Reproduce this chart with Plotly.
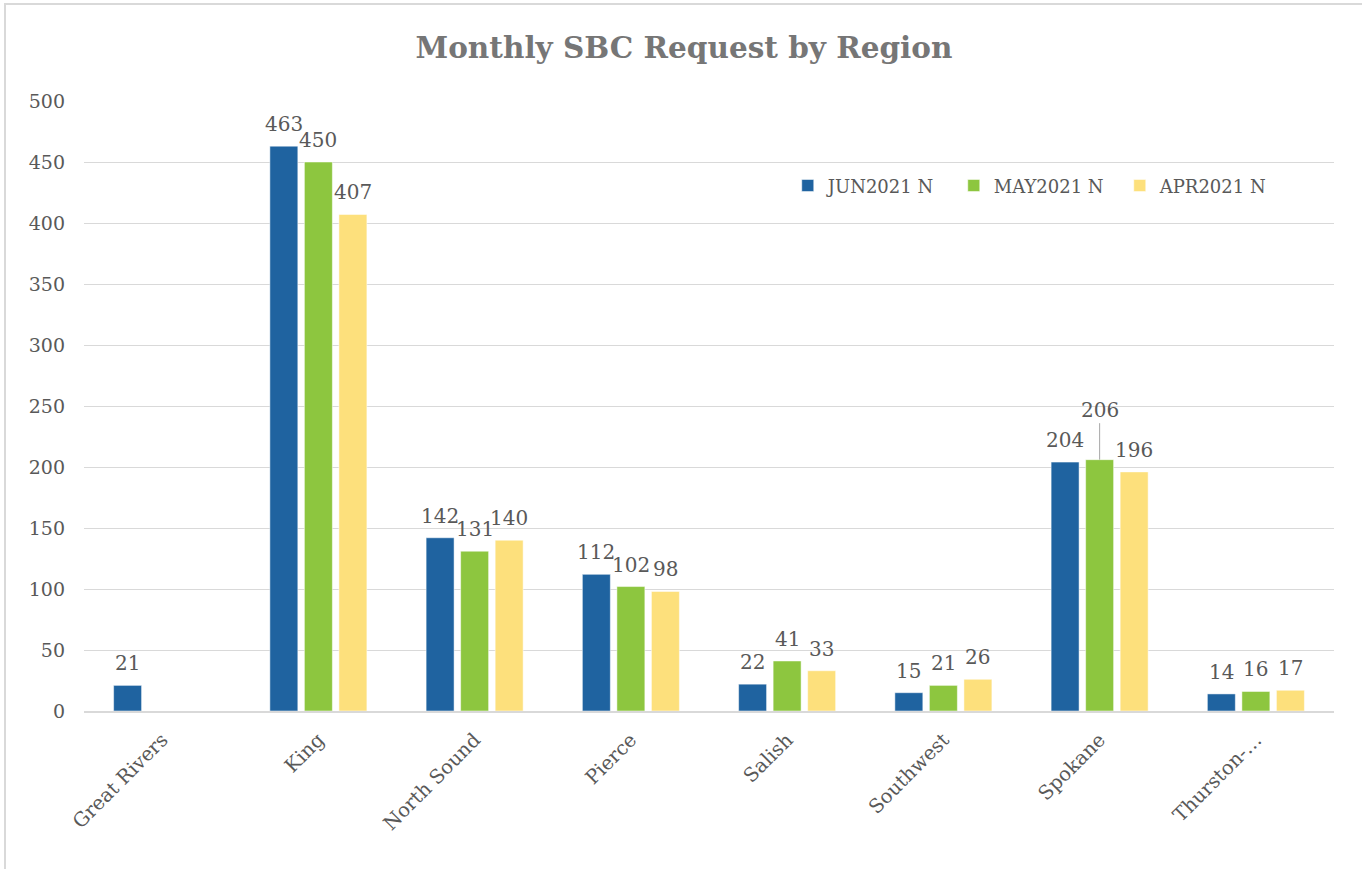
import plotly.graph_objects as go

regions = ["Great Rivers", "King", "North Sound", "Pierce", "Salish", "Southwest", "Spokane", "Thurston-…"]
series_names = ["JUN2021 N", "MAY2021 N", "APR2021 N"]
jun = [21, 463, 142, 112, 22, 15, 204, 14]
may = [None, 450, 131, 102, 41, 21, 206, 16]
apr = [None, 407, 140, 98, 33, 26, 196, 17]
colors = ["#1F63A0", "#8DC63F", "#FDE07C"]

FONT = "DejaVu Serif"
TXT = "#595959"

fig = go.Figure()
all_vals = [jun, may, apr]
for name, vals, col in zip(series_names, all_vals, colors):
    fig.add_trace(go.Bar(
        x=regions, y=vals, name=name,
        marker=dict(color=col, line=dict(color="white", width=0.5)),
        cliponaxis=False,
    ))

# data labels
offsets = [-34.5, 0, 34.5]
for si, vals in enumerate(all_vals):
    for r, v in zip(regions, vals):
        if v is None:
            continue
        leader = (r == "Spokane" and si == 1)
        if leader:
            fig.add_annotation(x=r, y=v, text=str(v), xshift=offsets[si],
                               showarrow=True, ax=0, ay=-50, arrowhead=0,
                               arrowwidth=1, arrowcolor="#A6A6A6", standoff=0,
                               font=dict(family=FONT, size=20, color=TXT))
        else:
            fig.add_annotation(x=r, y=v, text=str(v), xshift=offsets[si],
                               yshift=22, showarrow=False,
                               font=dict(family=FONT, size=20, color=TXT))

# chart border
fig.add_shape(type="rect", xref="paper", yref="paper",
              x0=-79 / 1250, x1=1.05, y0=-0.3, y1=(711 - 4) / 610,
              line=dict(color="#D9D9D9", width=2), fillcolor="rgba(0,0,0,0)")

fig.update_layout(
    width=1362, height=869,
    paper_bgcolor="white", plot_bgcolor="white",
    margin=dict(l=84, r=28, t=101, b=158),
    barmode="group", bargap=0.337, bargroupgap=0.19,
    title=dict(text="<b>Monthly SBC Request by Region</b>", x=684 / 1362, xanchor="center",
               xref="container",
               y=1 - 48 / 869, yanchor="middle",
               font=dict(family=FONT, size=29.5, color="#767676")),
    font=dict(family=FONT, size=19, color=TXT),
    legend=dict(orientation="h", x=0.563, y=0.861, xanchor="left", yanchor="middle",
                font=dict(family=FONT, size=18, color=TXT),
                entrywidth=121, entrywidthmode="pixels",
                bgcolor="rgba(0,0,0,0)"),
    showlegend=True,
)
fig.update_yaxes(range=[0, 500], dtick=50, showgrid=True, gridcolor="#D9D9D9",
                 gridwidth=1, zeroline=False, showline=False,
                 tickfont=dict(family=FONT, size=19, color=TXT),
                 ticklabelstandoff=18)
fig.update_xaxes(showline=True, linecolor="#D9D9D9", linewidth=1.5,
                 tickangle=-45, tickfont=dict(family=FONT, size=19.5, color=TXT),
                 ticklabelstandoff=8, showgrid=False)

fig.write_html("out.html", config={"displayModeBar": False},
               post_script="document.body.style.margin='0';")
